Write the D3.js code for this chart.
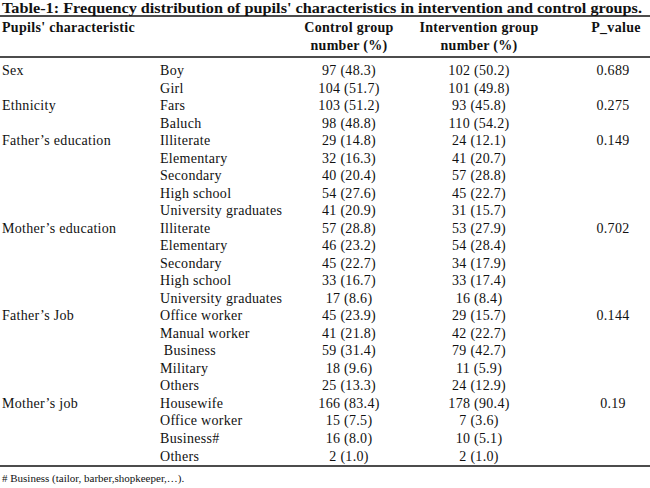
<!DOCTYPE html>
<html><head><meta charset="utf-8">
<script src="https://cdn.jsdelivr.net/npm/d3@7"></script>
<style>
body{margin:0;background:#fff;}
svg{display:block;}
text{font-family:"Liberation Serif","Times New Roman",serif;fill:#111;}
</style></head>
<body><svg id="c" width="650" height="488"></svg>
<script>
const title = "Table-1:  Frequency distribution of pupils' characteristics in intervention and control groups.";
const headers = [["Pupils' characteristic"], ["Control group","number (%)"], ["Intervention group","number (%)"], ["P_value"]];
const groups = ["Sex","Ethnicity","Father’s education","Mother’s education","Father’s Job","Mother’s job"];
const groupSizes = [2,2,5,5,5,4];
const pValues = ["0.689","0.275","0.149","0.702","0.144","0.19"];
const categories = ["Boy","Girl","Fars","Baluch",
  "Illiterate","Elementary","Secondary","High school","University graduates",
  "Illiterate","Elementary","Secondary","High school","University graduates",
  "Office worker","Manual worker"," Business","Military","Others",
  "Housewife","Office worker","Business#","Others"];
const controlN = [97,104,103,98,29,32,40,54,41,57,46,45,33,17,45,41,59,18,25,166,15,16,2];
const controlPct = ["48.3","51.7","51.2","48.8","14.8","16.3","20.4","27.6","20.9","28.8","23.2","22.7","16.7","8.6","23.9","21.8","31.4","9.6","13.3","83.4","7.5","8.0","1.0"];
const interN = [102,101,93,110,24,41,57,45,31,53,54,34,33,16,29,42,79,11,24,178,7,10,2];
const interPct = ["50.2","49.8","45.8","54.2","12.1","20.7","28.8","22.7","15.7","27.9","28.4","17.9","17.4","8.4","15.7","22.7","42.7","5.9","12.9","90.4","3.6","5.1","1.0"];
const footnote = "# Business (tailor, barber,shopkeeper,…).";

const svg = d3.select("#c");
const W = 650;
const FS = 14, LS = 0.3;
const rowY = d3.scalePoint().domain(d3.range(categories.length)).range([70.5, 456]);
const colX = d3.scaleOrdinal().domain(["group","cat","control","inter","p"]).range([2, 160, 349, 479, 613]);

// rules
const rules = [{y:16,w:1.6},{y:57,w:1.6},{y:466,w:1.6}];
svg.selectAll("line.rule").data(rules).join("line").attr("class","rule")
  .attr("x1",0).attr("x2",W).attr("y1",d=>d.y).attr("y2",d=>d.y)
  .attr("stroke","#111").attr("stroke-width",d=>d.w);

// title
svg.append("text").attr("x",2).attr("y",8).attr("dominant-baseline","central")
  .attr("font-weight","bold").attr("font-size",14)
  .attr("textLength",640).attr("lengthAdjust","spacingAndGlyphs").text(title);

// headers
const hx = [colX("group"), colX("control"), colX("inter"), 616];
const ha = ["start","middle","middle","middle"];
headers.forEach((lines,i)=>{
  lines.forEach((t,j)=>{
    svg.append("text").attr("x",hx[i]).attr("y",27+j*18.5).attr("dominant-baseline","central")
      .attr("text-anchor",ha[i]).attr("font-weight","bold").attr("font-size",FS)
      .attr("letter-spacing",LS).text(t);
  });
});

// group labels and p-values
let start = 0;
const gRows = groupSizes.map(s=>{const r=start; start+=s; return r;});
svg.selectAll("text.grp").data(groups).join("text").attr("class","grp")
  .attr("x",colX("group")).attr("y",(d,i)=>rowY(gRows[i])).attr("dominant-baseline","central")
  .attr("font-size",FS).attr("letter-spacing",LS).text(d=>d);
svg.selectAll("text.pv").data(pValues).join("text").attr("class","pv")
  .attr("x",colX("p")).attr("y",(d,i)=>rowY(gRows[i])).attr("dominant-baseline","central")
  .attr("text-anchor","middle").attr("font-size",FS).attr("letter-spacing",LS).text(d=>d);

// rows
const rows = categories.map((c,i)=>({i,c,ctrl:`${controlN[i]} (${controlPct[i]})`,inter:`${interN[i]} (${interPct[i]})`}));
svg.selectAll("text.cat").data(rows).join("text").attr("class","cat")
  .attr("x",colX("cat")).attr("y",d=>rowY(d.i)).attr("dominant-baseline","central")
  .attr("font-size",FS).attr("letter-spacing",LS).attr("xml:space","preserve").style("white-space","pre").text(d=>d.c);
svg.selectAll("text.ctrl").data(rows).join("text").attr("class","ctrl")
  .attr("x",colX("control")).attr("y",d=>rowY(d.i)).attr("dominant-baseline","central")
  .attr("text-anchor","middle").attr("font-size",FS).attr("letter-spacing",LS).text(d=>d.ctrl);
svg.selectAll("text.inter").data(rows).join("text").attr("class","inter")
  .attr("x",colX("inter")).attr("y",d=>rowY(d.i)).attr("dominant-baseline","central")
  .attr("text-anchor","middle").attr("font-size",FS).attr("letter-spacing",LS).text(d=>d.inter);

// footnote
svg.append("text").attr("x",2).attr("y",478).attr("dominant-baseline","central")
  .attr("font-size",11).text(footnote);
</script></body></html>
